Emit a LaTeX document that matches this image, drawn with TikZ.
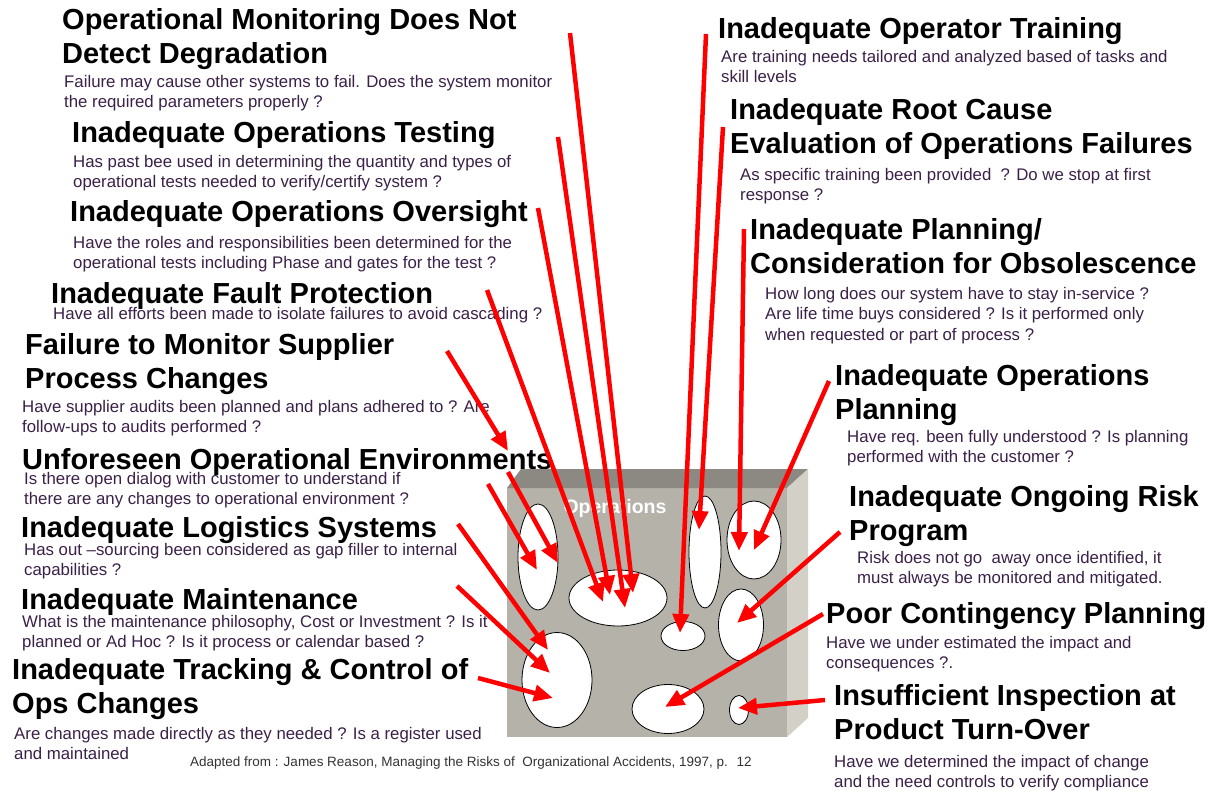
\documentclass[tikz,border=0pt]{standalone}
\usepackage{fontspec}
\setmainfont{Liberation Sans}
\usetikzlibrary{arrows.meta,shapes.geometric}
\definecolor{bodytxt}{HTML}{3B2048}
\definecolor{notetxt}{HTML}{333333}
\definecolor{frontface}{HTML}{B5B2AA}
\definecolor{topface}{HTML}{8B8981}
\definecolor{sideface}{HTML}{D2D0C7}
\definecolor{causered}{HTML}{FF0000}

\begin{document}
\begin{tikzpicture}[x=1pt,y=-1pt,
  head/.style={anchor=north west, inner sep=0pt, align=left,
    font=\fontsize{29}{34}\selectfont\bfseries},
  body/.style={anchor=north west, inner sep=0pt, align=left, text=bodytxt,
    font=\fontsize{16.8}{20.5}\selectfont},
  hole/.style={ellipse, draw=black, line width=0.8pt, fill=white, inner sep=0pt},
  cause/.style={draw=causered, line width=4.5pt,
    -{Triangle[length=19pt,width=16pt]}}
]
\useasboundingbox (0,0) rectangle (1210,791);

% ---------- left column ----------
\node[head] (h1) at (62,8) {Operational Monitoring Does Not\\Detect Degradation};
\node[body] (b1) at (64,75) {Failure may cause other systems to fail. Does the system monitor\\the required parameters properly ?};
\node[head] (h2) at (72,121) {Inadequate Operations Testing};
\node[body] (b2) at (73,155) {Has past bee used in determining the quantity and types of\\operational tests needed to verify/certify system ?};
\node[head] (h3) at (70,200) {Inadequate Operations Oversight};
\node[body] (b3) at (73,236) {Have the roles and responsibilities been determined for the\\operational tests including Phase and gates for the test ?};
\node[head] (h4) at (51,282) {Inadequate Fault Protection};
\node[body] (b4) at (53,307) {Have all efforts been made to isolate failures to avoid cascading ?};
\node[head] (h5) at (25,333) {Failure to Monitor Supplier\\Process Changes};
\node[body] (b5) at (22,400) {Have supplier audits been planned and plans adhered to ? Are\\follow-ups to audits performed ?};
\node[head] (h6) at (22,448) {Unforeseen Operational Environments};
\node[body] (b6) at (24,472) {Is there open dialog with customer to understand if\\there are any changes to operational environment ?};
\node[head] (h7) at (21,516) {Inadequate Logistics Systems};
\node[body] (b7) at (24,543) {Has out –sourcing been considered as gap filler to internal\\capabilities ?};
\node[head] (h8) at (21,588) {Inadequate Maintenance};
\node[body] (b8) at (22,615) {What is the maintenance philosophy, Cost or Investment ? Is it\\planned or Ad Hoc ? Is it process or calendar based ?};
\node[head] (h9) at (12,658) {Inadequate Tracking \& Control of\\Ops Changes};
\node[body] (b9) at (14,727) {Are changes made directly as they needed ? Is a register used\\and maintained};
\node[anchor=west, inner sep=0pt, text=notetxt, font=\fontsize{13.5}{16}\selectfont] (src) at (190,763)
  {Adapted from : James Reason, Managing the Risks of~ Organizational Accidents, 1997, p.~ 12};

% ---------- right column ----------
\node[head] (r1) at (718,17) {Inadequate Operator Training};
\node[body] (s1) at (721,50) {Are training needs tailored and analyzed based of tasks and\\skill levels};
\node[head] (r2) at (730,98) {Inadequate Root Cause\\Evaluation of Operations Failures};
\node[body] (s2) at (740,168) {As specific training been provided~ ? Do we stop at first\\response ?};
\node[head] (r3) at (750,218) {Inadequate Planning/\\Consideration for Obsolescence};
\node[body] (s3) at (765,287) {How long does our system have to stay in-service ?\\Are life time buys considered ? Is it performed only\\when requested or part of process ?};
\node[head] (r4) at (835,364) {Inadequate Operations\\Planning};
\node[body] (s4) at (847,430) {Have req. been fully understood ? Is planning\\performed with the customer ?};
\node[head] (r5) at (849,485) {Inadequate Ongoing Risk\\Program};
\node[body] (s5) at (857,551) {Risk does not go~ away once identified, it\\must always be monitored and mitigated.};
\node[head] (r6) at (826,602) {Poor Contingency Planning};
\node[body] (s6) at (826,636) {Have we under estimated the impact and\\consequences ?.};
\node[head] (r7) at (834,684) {Insufficient Inspection at\\Product Turn-Over};
\node[body] (s7) at (834,755) {Have we determined the impact of change\\and the need controls to verify compliance};

% ---------- the operations block ----------
\fill[frontface] (507,488) rectangle (787,737);
\fill[topface] (507,488) -- (521,469) -- (808,469) -- (787,488) -- cycle;
\fill[sideface] (787,488) -- (808,469) -- (808,718) -- (787,737) -- cycle;
\node[text=white, inner sep=0pt, font=\fontsize{19.5}{22}\selectfont\bfseries] (ops) at (615,508) {Operations};

% holes in the layers of defence
\node[hole, minimum width=40pt, minimum height=106pt] (e1) at (538,557) {};
\node[hole, minimum width=98pt, minimum height=56pt]  (e2) at (618,598) {};
\node[hole, minimum width=32pt, minimum height=112pt] (e3) at (705,552) {};
\node[hole, minimum width=54pt, minimum height=78pt]  (e4) at (754,540) {};
\node[hole, minimum width=44pt, minimum height=29pt]  (e5) at (683,636) {};
\node[hole, minimum width=45pt, minimum height=72pt]  (e6) at (741,625) {};
\node[hole, minimum width=70pt, minimum height=95pt]  (e7) at (557,680) {};
\node[hole, minimum width=72pt, minimum height=49pt]  (e8) at (668,709) {};
\node[hole, minimum width=19pt, minimum height=29pt]  (e9) at (739,710) {};

% ---------- arrow start and end points ----------
\coordinate (aMon)  at (570,33);   \coordinate (tMon)  at (633,593);
\coordinate (aTest) at (558,137);  \coordinate (tTest) at (625,608);
\coordinate (aOver) at (538,208);  \coordinate (tOver) at (610,595);
\coordinate (aFault) at (487,290); \coordinate (tFault) at (603,602);
\coordinate (aSup)  at (447,351);  \coordinate (tSup)  at (508,451);
\coordinate (aEnvA) at (508,472);  \coordinate (tEnvA) at (558,563);
\coordinate (aEnvB) at (488,484);  \coordinate (tEnvB) at (537,570);
\coordinate (aLog)  at (458,524);  \coordinate (tLog)  at (548,650);
\coordinate (aMnt)  at (457,586);  \coordinate (tMnt)  at (550,673);
\coordinate (aTrk)  at (478,678);  \coordinate (tTrk)  at (553,698);
\coordinate (aTrn)  at (706,34);   \coordinate (tTrn)  at (680,633);
\coordinate (aRoot) at (723,127);  \coordinate (tRoot) at (699,530);
\coordinate (aObs)  at (744,229);  \coordinate (tObs)  at (739,551);
\coordinate (aPln)  at (829,381);  \coordinate (tPln)  at (754,550);
\coordinate (aRisk) at (840,532);  \coordinate (tRisk) at (737,623);
\coordinate (aCont) at (823,614);  \coordinate (tCont) at (665,707);
\coordinate (aInsp) at (825,700);  \coordinate (tInsp) at (738,708);

% ---------- arrows ----------
\draw[cause] (aMon) -- (tMon);
\draw[cause] (aTest) -- (tTest);
\draw[cause] (aOver) -- (tOver);
\draw[cause] (aFault) -- (tFault);
\draw[cause] (aSup) -- (tSup);
\draw[cause] (aEnvA) -- (tEnvA);
\draw[cause] (aEnvB) -- (tEnvB);
\draw[cause] (aLog) -- (tLog);
\draw[cause] (aMnt) -- (tMnt);
\draw[cause] (aTrk) -- (tTrk);
\draw[cause] (aTrn) -- (tTrn);
\draw[cause] (aRoot) -- (tRoot);
\draw[cause] (aObs) -- (tObs);
\draw[cause] (aPln) -- (tPln);
\draw[cause] (aRisk) -- (tRisk);
\draw[cause] (aCont) -- (tCont);
\draw[cause] (aInsp) -- (tInsp);
\end{tikzpicture}
\end{document}
